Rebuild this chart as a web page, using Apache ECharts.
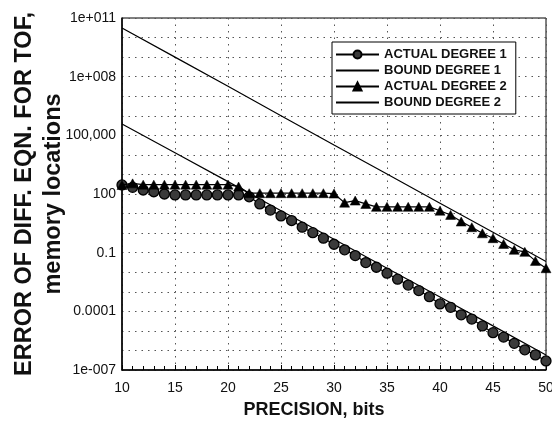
<!DOCTYPE html>
<html>
<head>
<meta charset="utf-8">
<script src="https://cdn.jsdelivr.net/npm/echarts@6/dist/echarts.min.js"></script>
<style>
  html, body { margin: 0; padding: 0; background: #fff; }
  #chart { width: 552px; height: 428px; }
</style>
</head>
<body>
<div id="chart"></div>
<script>
const bits = [10, 11, 12, 13, 14, 15, 16, 17, 18, 19, 20, 21, 22, 23, 24, 25, 26, 27, 28, 29, 30,
  31, 32, 33, 34, 35, 36, 37, 38, 39, 40, 41, 42, 43, 44, 45, 46, 47, 48, 49, 50];

const actualDegree1 = [290, 220, 160, 130, 100, 90, 90, 90, 90, 90, 90, 90, 72, 31, 15, 7.6, 4.4, 2.0, 1.05,
  0.55, 0.27, 0.14, 0.071, 0.031, 0.018, 0.0089, 0.0044, 0.0022, 0.00115, 0.00056, 0.00024, 0.00016,
  6.6e-5, 4.0e-5, 1.8e-5, 8.1e-6, 4.8e-6, 2.3e-6, 1.07e-6, 5.9e-7, 2.9e-7];

const actualDegree2 = [290, 350, 300, 300, 300, 300, 300, 300, 300, 300, 300, 240, 110, 110, 110, 110, 110,
  110, 110, 110, 105, 36, 46, 31, 22, 22, 22, 22, 22, 22, 14, 8.5, 3.9, 2.0, 0.98, 0.55, 0.28, 0.14,
  0.11, 0.038, 0.016];

const boundBits = [10, 15, 20, 25, 30, 35, 40, 45, 50];
const boundDegree1 = [3.8e5, 1.3e4, 430, 14, 0.48, 0.016, 5.4e-4, 1.8e-5, 5.9e-7];
const boundDegree2 = [3.1e10, 1.0e9, 3.2e7, 1.0e6, 3.2e4, 1050, 34, 1.1, 0.035];

const yTickValues = [1e-7, 1e-4, 0.1, 100, 1e5, 1e8, 1e11];
const yTickLabels = ["1e-007", "0.0001", "0.1", "100", "100,000", "1e+008", "1e+011"];

const FONT = "'Liberation Sans', Arial, sans-serif";

function pairs(xs, ys) {
  return xs.map((x, i) => [x, ys[i]]);
}

function yLabel(value) {
  const idx = yTickValues.findIndex((t) => Math.abs(Math.log10(t) - Math.log10(value)) < 1e-6);
  return idx >= 0 ? yTickLabels[idx] : "";
}

const chart = echarts.init(document.getElementById("chart"));

const gridLine = { color: "#555", width: 1, type: [1.5, 5] };

chart.setOption({
  animation: false,
  backgroundColor: "#fff",
  textStyle: { fontFamily: FONT, color: "#111" },
  grid: {
    left: 122,
    right: 6,
    top: 18,
    bottom: 58,
    outerBoundsMode: "none",
    containLabel: false,
    show: true,
    borderColor: "#000",
    borderWidth: 1
  },
  legend: {
    orient: "vertical",
    left: 332,
    top: 42,
    padding: [6, 9, 5, 3],
    itemWidth: 43,
    itemHeight: 10,
    itemGap: 3,
    backgroundColor: "#fff",
    borderColor: "#000",
    borderWidth: 1,
    borderRadius: 0,
    textStyle: { fontFamily: FONT, fontSize: 13, fontWeight: "bold", color: "#111", lineHeight: 13 },
    data: [
      { name: "ACTUAL DEGREE 1" },
      { name: "BOUND DEGREE 1", itemStyle: { opacity: 0 } },
      { name: "ACTUAL DEGREE 2" },
      { name: "BOUND DEGREE 2", itemStyle: { opacity: 0 } }
    ]
  },
  xAxis: {
    type: "value",
    min: 10,
    max: 50,
    interval: 5,
    name: "PRECISION, bits",
    nameLocation: "middle",
    nameGap: 31,
    nameMoveOverlap: false,
    nameTextStyle: { fontFamily: FONT, fontSize: 18, fontWeight: "bold", color: "#111", padding: [0, 40, 0, 0] },
    axisLine: { lineStyle: { color: "#000", width: 1.5 } },
    axisTick: { show: true, inside: true, length: 5, lineStyle: { color: "#000" } },
    minorTick: { show: true, splitNumber: 5, length: 4, lineStyle: { color: "#000" } },
    axisLabel: { fontFamily: FONT, fontSize: 14, color: "#111", margin: 11 },
    splitLine: { show: true, lineStyle: gridLine }
  },
  yAxis: {
    type: "log",
    logBase: 10,
    min: 1e-7,
    max: 1e11,
    interval: 1,
    name: "ERROR OF DIFF. EQN. FOR TOF,\nmemory locations",
    nameLocation: "middle",
    nameRotate: 90,
    nameGap: 54,
    nameMoveOverlap: false,
    nameTextStyle: { fontFamily: FONT, fontSize: 23.5, fontWeight: "bold", color: "#111", lineHeight: 29 },
    axisLine: { show: true, lineStyle: { color: "#000", width: 1.5 } },
    axisTick: { show: false },
    axisLabel: { fontFamily: FONT, fontSize: 14, color: "#111", margin: 6, formatter: yLabel },
    splitLine: { show: true, lineStyle: gridLine }
  },
  series: [
    {
      name: "BOUND DEGREE 1",
      type: "line",
      data: pairs(boundBits, boundDegree1),
      symbol: "none",
      lineStyle: { color: "#000", width: 1.2 },
      itemStyle: { color: "#000" },
      z: 2
    },
    {
      name: "BOUND DEGREE 2",
      type: "line",
      data: pairs(boundBits, boundDegree2),
      symbol: "none",
      lineStyle: { color: "#000", width: 1.2 },
      itemStyle: { color: "#000" },
      z: 2
    },
    {
      name: "ACTUAL DEGREE 1",
      type: "line",
      data: pairs(bits, actualDegree1),
      symbol: "circle",
      symbolSize: 10,
      showAllSymbol: true,
      lineStyle: { color: "#000", width: 1.2 },
      itemStyle: { color: "#3a3a3a", borderColor: "#000", borderWidth: 1.3 },
      z: 3
    },
    {
      name: "ACTUAL DEGREE 2",
      type: "line",
      data: pairs(bits, actualDegree2),
      symbol: "triangle",
      symbolSize: [10, 9],
      showAllSymbol: true,
      lineStyle: { color: "#000", width: 1.2 },
      itemStyle: { color: "#000", borderColor: "#000", borderWidth: 0.5 },
      z: 4
    }
  ]
});
</script>
</body>
</html>
